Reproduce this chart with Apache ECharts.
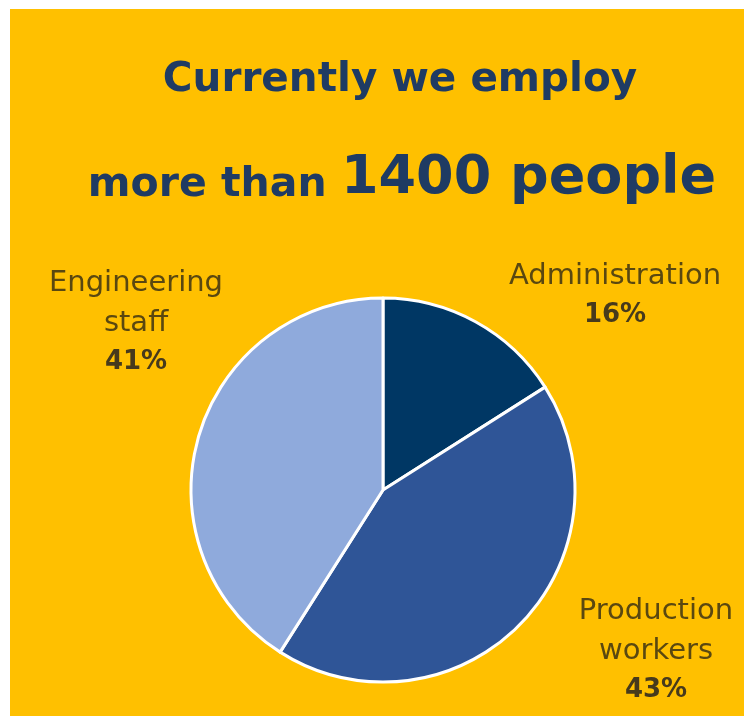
<!DOCTYPE html>
<html>
<head>
<meta charset="utf-8">
<script src="https://cdn.jsdelivr.net/npm/echarts@6/dist/echarts.min.js"></script>
<style>
html,body{margin:0;padding:0;background:#ffffff;}
#chart{position:absolute;left:10px;top:9px;width:734px;height:707px;}
</style>
</head>
<body>
<div id="chart"></div>
<script>
// Data
const categories = ['Administration', 'Production\nworkers', 'Engineering\nstaff'];
const shares = [16, 43, 41];
const titleLine1 = 'Currently we employ';
const titleLine2a = 'more than ';
const titleLine2b = '1400 people';

const sliceColors = ['#003764', '#2F5597', '#8FAADC'];
const labelSpots = [[605, 286], [646, 641], [126, 313]];

const chart = echarts.init(document.getElementById('chart'));
chart.setOption({
  backgroundColor: '#FFC000',
  title: [
    {
      text: titleLine1,
      left: 385, top: 46, textAlign: 'center',
      textStyle: { fontFamily: 'DejaVu Sans', fontWeight: 'bold', fontSize: 40.5, color: '#1F3B63' }
    },
    {
      text: '{a|' + titleLine2a + '}{b|' + titleLine2b + '}',
      left: 387, top: 138, textAlign: 'center',
      textStyle: {
        rich: {
          a: { fontFamily: 'DejaVu Sans', fontWeight: 'bold', fontSize: 41, color: '#1F3B63', verticalAlign: 'bottom' },
          b: { fontFamily: 'DejaVu Sans', fontWeight: 'bold', fontSize: 54, color: '#1F3B63', verticalAlign: 'bottom' }
        }
      }
    }
  ],
  series: [{
    type: 'pie',
    center: [373, 481],
    radius: 192,
    startAngle: 90,
    clockwise: true,
    silent: true,
    animation: false,
    itemStyle: { borderColor: '#ffffff', borderWidth: 3 },
    label: {
      show: true,
      overflow: 'none',
      formatter: p => '{n|' + p.name + '}\n{v|' + p.value + '%}',
      rich: {
        n: { fontFamily: 'DejaVu Sans', fontSize: 29, color: '#5A4810', lineHeight: 40, align: 'center' },
        v: { fontFamily: 'DejaVu Sans', fontWeight: 'bold', fontSize: 26, color: '#473A1C', lineHeight: 38, align: 'center' }
      }
    },
    labelLine: { show: false },
    labelLayout: p => ({
      x: labelSpots[p.dataIndex][0],
      y: labelSpots[p.dataIndex][1],
      align: 'center',
      verticalAlign: 'middle'
    }),
    data: categories.map((c, i) => ({ name: c, value: shares[i], itemStyle: { color: sliceColors[i] } }))
  }]
});
</script>
</body>
</html>
